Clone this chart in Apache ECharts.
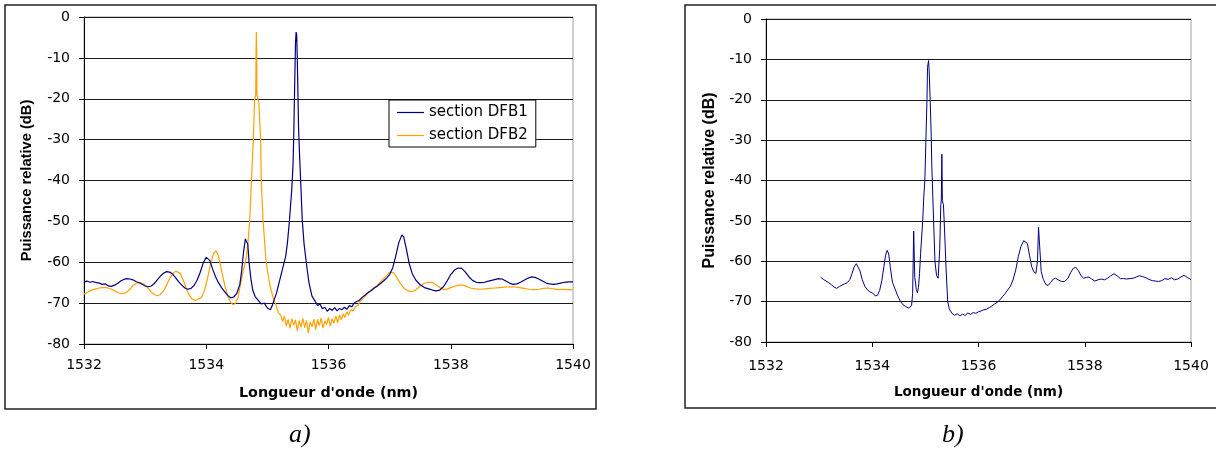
<!DOCTYPE html>
<html><head><meta charset="utf-8">
<script src="https://cdn.jsdelivr.net/npm/echarts@6.0.0/dist/echarts.min.js"></script>
<style>html,body{margin:0;padding:0;background:#fff}#c{width:1216px;height:453px}</style>
</head><body><div id="c"></div><script>
// ---- data (wavelength nm, relative power dB) ----
const dfb1 = [
[1532.00,-64.8],[1532.05,-64.6],[1532.10,-64.9],[1532.15,-64.7],[1532.20,-65.0],[1532.25,-65.1],[1532.30,-65.4],[1532.35,-65.3],
[1532.40,-65.8],[1532.45,-65.9],[1532.50,-65.6],[1532.55,-65.2],[1532.60,-64.6],[1532.65,-64.2],[1532.70,-64.0],[1532.75,-64.1],
[1532.80,-64.3],[1532.85,-64.7],[1532.90,-65.0],[1532.95,-65.4],[1533.00,-65.8],[1533.05,-66.0],[1533.10,-65.8],[1533.15,-65.2],
[1533.20,-64.3],[1533.25,-63.4],[1533.30,-62.7],[1533.35,-62.3],[1533.40,-62.4],[1533.45,-62.9],[1533.50,-63.8],[1533.55,-64.8],
[1533.60,-65.6],[1533.65,-66.3],[1533.70,-66.6],[1533.75,-66.4],[1533.80,-65.7],[1533.85,-64.4],[1533.90,-62.5],[1533.95,-60.2],
[1534.00,-58.8],[1534.03,-58.7],[1534.06,-59.6],[1534.10,-61.5],[1534.15,-63.5],[1534.20,-65.0],[1534.25,-66.2],[1534.30,-67.2],
[1534.35,-68.1],[1534.40,-68.7],[1534.45,-68.5],[1534.50,-67.6],[1534.55,-65.4],[1534.58,-62.0],[1534.61,-57.5],[1534.64,-54.3],
[1534.66,-54.0],[1534.68,-55.6],[1534.70,-60.0],[1534.73,-64.0],[1534.76,-66.8],[1534.80,-68.4],[1534.85,-69.3],[1534.90,-70.2],
[1534.95,-70.0],[1535.00,-71.2],[1535.05,-71.6],[1535.08,-70.6],[1535.11,-69.2],[1535.15,-67.5],[1535.20,-64.5],[1535.25,-61.5],
[1535.30,-58.5],[1535.33,-55.0],[1535.36,-50.0],[1535.38,-46.0],[1535.40,-42.0],[1535.42,-36.0],[1535.43,-30.0],[1535.44,-22.0],
[1535.45,-14.0],[1535.46,-6.5],[1535.47,-3.7],[1535.48,-4.5],[1535.49,-10.5],[1535.50,-19.0],[1535.51,-27.0],[1535.53,-35.0],
[1535.55,-42.0],[1535.57,-49.5],[1535.60,-55.5],[1535.64,-60.5],[1535.68,-65.0],[1535.73,-68.3],[1535.78,-69.5],[1535.82,-70.6],
[1535.86,-70.2],[1535.90,-71.4],[1535.94,-71.0],[1535.98,-72.0],[1536.02,-71.3],[1536.06,-71.8],[1536.10,-71.1],[1536.14,-71.9],
[1536.18,-71.3],[1536.22,-71.6],[1536.26,-71.0],[1536.30,-71.5],[1536.34,-70.6],[1536.38,-70.9],[1536.42,-70.0],[1536.46,-69.6],
[1536.50,-69.4],[1536.55,-68.6],[1536.60,-68.0],[1536.65,-67.4],[1536.70,-66.9],[1536.75,-66.3],[1536.80,-65.8],[1536.85,-65.2],
[1536.90,-64.6],[1536.95,-63.9],[1537.00,-63.0],[1537.05,-61.4],[1537.10,-58.5],[1537.15,-55.2],[1537.20,-53.3],[1537.23,-53.8],
[1537.27,-56.5],[1537.32,-60.3],[1537.37,-62.8],[1537.43,-64.4],[1537.50,-65.5],[1537.57,-66.2],[1537.64,-66.5],[1537.70,-66.8],
[1537.76,-67.0],[1537.82,-66.8],[1537.88,-66.0],[1537.94,-64.6],[1538.00,-63.0],[1538.06,-61.9],[1538.12,-61.4],[1538.18,-61.5],
[1538.24,-62.4],[1538.30,-63.6],[1538.36,-64.5],[1538.42,-64.9],[1538.48,-65.0],[1538.55,-64.9],[1538.62,-64.6],[1538.70,-64.3],
[1538.78,-64.0],[1538.84,-64.1],[1538.90,-64.6],[1538.96,-65.1],[1539.02,-65.4],[1539.08,-65.3],[1539.14,-64.9],[1539.20,-64.4],
[1539.26,-63.9],[1539.32,-63.6],[1539.38,-63.7],[1539.44,-64.1],[1539.50,-64.6],[1539.56,-65.1],[1539.62,-65.3],[1539.68,-65.4],
[1539.74,-65.3],[1539.80,-65.1],[1539.86,-64.9],[1539.92,-64.8],[1540.00,-64.8]
];
const dfb2 = [
[1532.00,-67.8],[1532.05,-67.4],[1532.10,-67.0],[1532.15,-66.7],[1532.20,-66.5],[1532.25,-66.3],[1532.30,-66.2],[1532.35,-66.2],
[1532.40,-66.3],[1532.45,-66.6],[1532.50,-67.0],[1532.55,-67.4],[1532.60,-67.6],[1532.65,-67.7],[1532.70,-67.3],[1532.75,-66.6],
[1532.80,-65.8],[1532.85,-65.2],[1532.90,-64.9],[1532.95,-65.1],[1533.00,-65.6],[1533.05,-66.4],[1533.10,-67.3],[1533.15,-67.9],
[1533.20,-68.2],[1533.25,-67.9],[1533.30,-67.0],[1533.35,-65.6],[1533.40,-64.0],[1533.45,-62.8],[1533.50,-62.2],[1533.53,-62.1],
[1533.57,-62.6],[1533.62,-64.2],[1533.67,-66.3],[1533.72,-68.0],[1533.77,-69.0],[1533.82,-69.3],[1533.87,-69.0],[1533.92,-68.6],
[1533.97,-67.0],[1534.02,-64.0],[1534.07,-60.4],[1534.12,-57.8],[1534.16,-57.2],[1534.20,-58.5],[1534.25,-62.0],[1534.30,-65.5],
[1534.35,-68.2],[1534.40,-69.8],[1534.44,-70.4],[1534.48,-70.0],[1534.52,-68.6],[1534.56,-65.5],[1534.60,-62.5],[1534.63,-60.5],
[1534.66,-58.5],[1534.69,-54.0],[1534.71,-50.0],[1534.74,-40.0],[1534.77,-30.0],[1534.79,-20.5],[1534.81,-19.0],[1534.815,-8.0],
[1534.82,-3.7],[1534.825,-8.0],[1534.83,-19.0],[1534.86,-21.0],[1534.89,-30.0],[1534.90,-40.0],[1534.93,-50.0],[1534.98,-60.0],
[1535.04,-65.5],[1535.10,-69.0],[1535.13,-70.0],[1535.18,-72.3],[1535.22,-73.0],[1535.25,-74.5],[1535.28,-73.2],[1535.31,-75.6],
[1535.34,-74.0],[1535.37,-76.2],[1535.40,-73.8],[1535.43,-75.4],[1535.46,-74.1],[1535.49,-76.8],[1535.52,-74.3],[1535.55,-75.9],
[1535.58,-73.7],[1535.61,-76.0],[1535.64,-74.2],[1535.67,-77.3],[1535.70,-74.6],[1535.73,-75.8],[1535.76,-73.9],[1535.79,-76.4],
[1535.82,-74.0],[1535.85,-75.5],[1535.88,-73.6],[1535.91,-76.1],[1535.94,-74.4],[1535.97,-75.2],[1536.00,-73.5],[1536.03,-75.6],
[1536.06,-73.8],[1536.09,-74.9],[1536.12,-73.2],[1536.15,-74.8],[1536.18,-72.9],[1536.21,-74.1],[1536.24,-72.6],[1536.27,-73.5],
[1536.30,-72.1],[1536.33,-72.9],[1536.36,-71.6],[1536.40,-71.9],[1536.44,-70.9],[1536.48,-70.6],[1536.52,-69.6],[1536.56,-68.9],
[1536.60,-68.3],[1536.65,-67.4],[1536.70,-66.8],[1536.75,-66.2],[1536.80,-65.6],[1536.85,-64.8],[1536.90,-64.0],[1536.95,-63.2],
[1537.00,-62.4],[1537.03,-62.1],[1537.07,-62.6],[1537.12,-63.8],[1537.18,-65.3],[1537.24,-66.4],[1537.30,-67.0],[1537.37,-67.2],
[1537.44,-66.6],[1537.50,-65.8],[1537.56,-65.2],[1537.63,-64.9],[1537.70,-64.9],[1537.76,-65.5],[1537.82,-66.2],[1537.89,-66.7],
[1537.95,-66.5],[1538.02,-66.1],[1538.08,-65.8],[1538.14,-65.6],[1538.20,-65.6],[1538.26,-65.9],[1538.32,-66.3],[1538.40,-66.5],
[1538.48,-66.6],[1538.56,-66.5],[1538.64,-66.4],[1538.72,-66.3],[1538.80,-66.2],[1538.88,-66.1],[1538.96,-66.0],[1539.04,-66.0],
[1539.12,-66.2],[1539.20,-66.4],[1539.28,-66.6],[1539.36,-66.7],[1539.44,-66.6],[1539.52,-66.4],[1539.60,-66.3],[1539.68,-66.5],
[1539.76,-66.7],[1539.84,-66.6],[1539.92,-66.7],[1540.00,-66.7]
];
const spectrumB = [
[1533.03,-64.0],[1533.08,-64.5],[1533.13,-64.9],[1533.18,-65.3],[1533.23,-65.8],[1533.28,-66.4],[1533.33,-66.7],[1533.38,-66.3],
[1533.43,-65.9],[1533.48,-65.6],[1533.53,-65.3],[1533.58,-64.5],[1533.62,-63.0],[1533.66,-61.4],[1533.70,-60.6],[1533.73,-60.8],
[1533.77,-62.4],[1533.81,-64.5],[1533.86,-66.2],[1533.91,-67.1],[1533.96,-67.6],[1534.01,-67.9],[1534.06,-68.6],[1534.10,-68.4],
[1534.14,-67.2],[1534.18,-64.8],[1534.22,-61.3],[1534.25,-58.5],[1534.28,-57.3],[1534.31,-58.2],[1534.34,-61.5],[1534.38,-65.2],
[1534.43,-66.9],[1534.48,-68.6],[1534.53,-69.9],[1534.58,-70.8],[1534.63,-71.2],[1534.68,-71.6],[1534.71,-71.9],[1534.74,-71.0],
[1534.76,-68.0],[1534.78,-52.5],[1534.80,-64.0],[1534.83,-67.0],[1534.85,-67.8],[1534.87,-66.5],[1534.89,-63.0],[1534.91,-58.0],
[1534.93,-54.0],[1534.95,-50.0],[1534.97,-44.0],[1534.99,-40.0],[1535.01,-30.0],[1535.03,-20.0],[1535.04,-12.0],[1535.06,-10.3],
[1535.07,-12.5],[1535.09,-20.0],[1535.11,-29.0],[1535.12,-36.0],[1535.14,-44.0],[1535.16,-52.0],[1535.18,-60.0],[1535.21,-63.5],
[1535.24,-64.2],[1535.27,-57.0],[1535.29,-46.0],[1535.30,-44.8],[1535.31,-33.5],[1535.32,-45.0],[1535.34,-46.0],[1535.36,-52.0],
[1535.39,-62.0],[1535.42,-70.0],[1535.45,-71.8],[1535.50,-72.9],[1535.55,-73.4],[1535.60,-73.0],[1535.65,-73.5],[1535.70,-73.1],
[1535.75,-73.4],[1535.80,-72.8],[1535.85,-73.2],[1535.90,-72.7],[1535.95,-72.9],[1536.00,-72.5],[1536.05,-72.3],[1536.10,-72.0],
[1536.15,-71.9],[1536.20,-71.5],[1536.25,-71.1],[1536.30,-70.6],[1536.35,-70.2],[1536.40,-69.6],[1536.45,-68.8],[1536.50,-68.0],
[1536.55,-67.1],[1536.60,-66.2],[1536.65,-64.6],[1536.70,-62.2],[1536.75,-58.8],[1536.80,-56.3],[1536.85,-54.9],[1536.88,-54.7],
[1536.92,-55.6],[1536.96,-58.5],[1537.00,-61.3],[1537.04,-62.6],[1537.08,-63.0],[1537.11,-60.0],[1537.13,-51.6],[1537.15,-56.0],
[1537.18,-62.5],[1537.22,-64.5],[1537.27,-65.8],[1537.31,-66.0],[1537.36,-65.2],[1537.41,-64.4],[1537.45,-64.2],[1537.50,-64.6],
[1537.56,-65.0],[1537.62,-65.0],[1537.68,-64.3],[1537.73,-62.9],[1537.78,-61.8],[1537.83,-61.5],[1537.88,-62.3],[1537.93,-63.6],
[1537.98,-64.2],[1538.03,-64.0],[1538.08,-63.9],[1538.13,-64.4],[1538.19,-64.9],[1538.25,-64.6],[1538.31,-64.4],[1538.37,-64.6],
[1538.43,-64.2],[1538.49,-63.6],[1538.55,-63.1],[1538.61,-63.6],[1538.67,-64.3],[1538.73,-64.3],[1538.79,-64.4],[1538.85,-64.3],
[1538.91,-64.2],[1538.97,-63.9],[1539.03,-63.6],[1539.09,-63.8],[1539.15,-64.1],[1539.21,-64.5],[1539.27,-64.8],[1539.33,-64.9],
[1539.39,-65.0],[1539.45,-64.8],[1539.51,-64.3],[1539.57,-64.5],[1539.63,-64.1],[1539.69,-64.6],[1539.75,-64.4],[1539.81,-63.9],
[1539.87,-63.5],[1539.93,-64.0],[1540.00,-64.6]
];
const seriesNames = ['section DFB1', 'section DFB2'];
const xRange = [1532, 1540], xStep = 2;
const yRange = [-80, 0], yStep = 10;
const xTitle = "Longueur d'onde (nm)";
const yTitle = 'Puissance relative (dB)';
const captions = ['a)', 'b)'];

// ---- chart ----
const chart = echarts.init(document.getElementById('c'), null, {renderer: 'canvas'});
const lblFont = 'DejaVu Sans';
function xAxis(gi, margin, gap, fs) {
  return {type: 'value', gridIndex: gi, min: xRange[0], max: xRange[1], interval: xStep,
    axisLine: {show: true, onZero: false, lineStyle: {color: '#000', width: 1}},
    axisTick: {show: true, inside: false, length: 5, lineStyle: {color: '#000'}},
    axisLabel: {margin: margin, color: '#000', fontFamily: lblFont, fontSize: 14, formatter: v => String(v)},
    splitLine: {show: false},
    name: xTitle, nameLocation: 'middle', nameGap: gap,
    nameTextStyle: {fontFamily: lblFont, fontWeight: 'bold', fontSize: fs, color: '#000'}};
}
function yAxis(gi, gap, fs) {
  return {type: 'value', gridIndex: gi, min: yRange[0], max: yRange[1], interval: yStep,
    axisLine: {show: true, onZero: false, lineStyle: {color: '#000', width: 1}},
    axisTick: {show: true, inside: false, length: 5, lineStyle: {color: '#000'}},
    axisLabel: {margin: 14, color: '#000', fontFamily: lblFont, fontSize: 14, formatter: v => String(v)},
    splitLine: {show: true, lineStyle: {color: '#1a1a1a', width: 1}},
    name: yTitle, nameLocation: 'middle', nameRotate: 90, nameGap: gap,
    nameTextStyle: {fontFamily: 'Liberation Sans', fontWeight: 'bold', fontSize: fs, color: '#000'}};
}
chart.setOption({
  animation: false,
  backgroundColor: '#fff',
  grid: [
    {left: 84, top: 17, width: 489, height: 327, show: true, borderColor: '#a0a0a0', borderWidth: 1, backgroundColor: 'transparent'},
    {left: 766, top: 19, width: 425, height: 323, show: true, borderColor: '#a0a0a0', borderWidth: 1, backgroundColor: 'transparent'}
  ],
  xAxis: [xAxis(0, 14, 42, 14.3), xAxis(1, 17, 43, 13.5)],
  yAxis: [yAxis(0, 50, 14.7), yAxis(1, 48, 16)],
  legend: {
    data: seriesNames, orient: 'vertical', left: 389, top: 100,
    icon: 'path://M0,0h27v1.2h-27z', symbolKeepAspect: true,
    itemWidth: 27, itemHeight: 14, itemGap: 8,
    padding: [5, 8, 4, 8], borderColor: '#000', borderWidth: 1, backgroundColor: '#fff',
    textStyle: {fontFamily: lblFont, fontSize: 15, color: '#000'}
  },
  graphic: [
    {type: 'rect', shape: {x: 5, y: 5, width: 591, height: 404}, style: {fill: 'none', stroke: '#222', lineWidth: 1.5}, z: 0},
    {type: 'rect', shape: {x: 685, y: 5, width: 540, height: 403}, style: {fill: 'none', stroke: '#222', lineWidth: 1.5}, z: 0},
    {type: 'text', left: 289, top: 422, style: {text: captions[0], font: 'italic 26px "Liberation Serif"', fill: '#000'}},
    {type: 'text', left: 942, top: 422, style: {text: captions[1], font: 'italic 26px "Liberation Serif"', fill: '#000'}}
  ],
  series: [
    {name: seriesNames[0], type: 'line', xAxisIndex: 0, yAxisIndex: 0, data: dfb1, symbol: 'none',
      lineStyle: {color: '#000080', width: 1.2}, itemStyle: {color: '#000080'}, z: 3},
    {name: seriesNames[1], type: 'line', xAxisIndex: 0, yAxisIndex: 0, data: dfb2, symbol: 'none',
      lineStyle: {color: '#FFA200', width: 1.2}, itemStyle: {color: '#FFA200'}, z: 2},
    {name: 'b', type: 'line', xAxisIndex: 1, yAxisIndex: 1, data: spectrumB, symbol: 'none',
      lineStyle: {color: '#000080', width: 1}, itemStyle: {color: '#000080'}, z: 3}
  ]
});
</script></body></html>
